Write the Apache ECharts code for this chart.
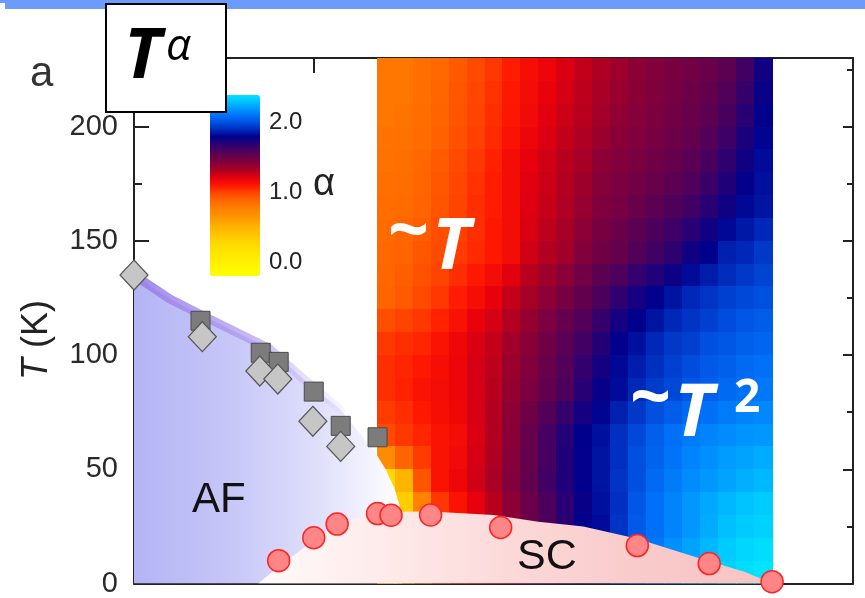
<!DOCTYPE html>
<html>
<head>
<meta charset="utf-8">
<script src="https://cdn.jsdelivr.net/npm/echarts@6/dist/echarts.min.js"></script>
<style>
html,body{margin:0;padding:0;background:#fff;}
#chart{width:865px;height:598px;}
</style>
</head>
<body>
<div id="chart"></div>
<script>
// ---------- data ----------
// heat-map cell centres (doping x, temperature T) and exponent alpha
const xCenters = [0.28,0.30,0.32,0.34,0.36,0.38,0.40,0.42,0.44,0.46,0.48,0.50,0.52,0.54,0.56,0.58,0.60,0.62,0.64,0.66,0.68,0.70];
const tCenters = [225,215,205,195,185,175,165,155,145,135,125,115,105,95,85,75,65,55,45,35,25,15,5];
const alphaRows = [
 [0.82,0.82,0.85,0.88,0.93,0.98,1.03,1.09,1.14,1.18,1.23,1.28,1.32,1.36,1.40,1.43,1.46,1.48,1.51,1.55,1.63,1.76],
 [0.82,0.82,0.85,0.89,0.94,0.99,1.04,1.10,1.15,1.19,1.24,1.29,1.33,1.37,1.41,1.44,1.47,1.50,1.53,1.58,1.66,1.78],
 [0.82,0.83,0.86,0.90,0.95,1.00,1.05,1.11,1.16,1.21,1.26,1.30,1.35,1.39,1.42,1.45,1.48,1.51,1.55,1.61,1.70,1.80],
 [0.83,0.84,0.87,0.91,0.96,1.01,1.06,1.12,1.18,1.23,1.28,1.32,1.37,1.41,1.44,1.47,1.50,1.53,1.58,1.64,1.73,1.81],
 [0.84,0.85,0.88,0.93,0.98,1.03,1.08,1.15,1.20,1.25,1.30,1.34,1.40,1.43,1.46,1.49,1.52,1.56,1.61,1.68,1.76,1.83],
 [0.85,0.86,0.89,0.94,0.99,1.04,1.09,1.15,1.21,1.26,1.31,1.36,1.42,1.45,1.48,1.51,1.55,1.59,1.65,1.72,1.79,1.84],
 [0.86,0.87,0.90,0.95,1.00,1.05,1.09,1.15,1.22,1.27,1.32,1.38,1.44,1.47,1.51,1.55,1.59,1.63,1.70,1.76,1.82,1.85],
 [0.87,0.89,0.92,0.97,1.01,1.05,1.10,1.15,1.23,1.29,1.34,1.40,1.46,1.50,1.55,1.60,1.64,1.70,1.76,1.82,1.86,1.90],
 [0.88,0.90,0.94,0.98,1.02,1.06,1.10,1.15,1.25,1.31,1.35,1.43,1.49,1.52,1.58,1.63,1.68,1.76,1.80,1.88,1.90,1.94],
 [0.89,0.92,0.96,1.00,1.05,1.10,1.15,1.21,1.30,1.36,1.41,1.48,1.55,1.60,1.67,1.72,1.77,1.83,1.87,1.91,1.94,1.97],
 [0.90,0.93,0.98,1.03,1.09,1.14,1.20,1.27,1.34,1.40,1.47,1.53,1.60,1.68,1.75,1.80,1.85,1.90,1.93,1.96,1.98,2.00],
 [0.97,1.00,1.03,1.08,1.13,1.19,1.24,1.31,1.38,1.45,1.52,1.58,1.66,1.75,1.80,1.85,1.90,1.93,1.96,1.99,2.02,2.04],
 [1.03,1.05,1.07,1.12,1.17,1.23,1.28,1.35,1.41,1.49,1.56,1.63,1.71,1.80,1.84,1.90,1.94,1.96,2.00,2.02,2.05,2.07],
 [1.05,1.07,1.10,1.14,1.18,1.24,1.29,1.37,1.43,1.51,1.58,1.67,1.75,1.82,1.87,1.92,1.96,1.99,2.03,2.05,2.08,2.10],
 [1.05,1.08,1.12,1.15,1.18,1.24,1.30,1.38,1.45,1.53,1.60,1.70,1.78,1.83,1.90,1.95,1.98,2.02,2.05,2.08,2.10,2.12],
 [1.02,1.05,1.10,1.14,1.17,1.24,1.31,1.40,1.49,1.58,1.66,1.75,1.81,1.88,1.94,2.00,2.04,2.08,2.10,2.13,2.15,2.16],
 [0.98,1.03,1.07,1.12,1.15,1.23,1.31,1.41,1.52,1.62,1.71,1.80,1.84,1.92,1.98,2.05,2.10,2.13,2.15,2.17,2.19,2.20],
 [0.70,0.90,1.02,1.12,1.16,1.24,1.32,1.42,1.52,1.62,1.72,1.80,1.85,1.92,2.00,2.06,2.11,2.15,2.18,2.21,2.23,2.25],
 [0.25,0.50,0.95,1.12,1.17,1.25,1.33,1.43,1.53,1.63,1.72,1.80,1.85,1.93,2.00,2.08,2.13,2.17,2.20,2.23,2.26,2.28],
 [0.20,0.35,0.75,1.03,1.12,1.20,1.30,1.40,1.50,1.60,1.70,1.78,1.84,1.92,2.02,2.10,2.15,2.20,2.24,2.28,2.31,2.33],
 [0.20,0.35,0.75,1.03,1.12,1.20,1.30,1.40,1.50,1.60,1.70,1.80,1.83,1.93,2.03,2.10,2.15,2.20,2.25,2.30,2.33,2.35],
 [0.20,0.35,0.75,1.03,1.12,1.20,1.30,1.40,1.50,1.60,1.70,1.80,1.85,1.95,2.05,2.12,2.18,2.23,2.28,2.33,2.36,2.38],
 [0.20,0.35,0.75,1.03,1.12,1.20,1.30,1.40,1.50,1.60,1.70,1.80,1.85,1.95,2.05,2.12,2.18,2.24,2.30,2.35,2.38,2.40]
];

// Neel temperature: squares and diamonds
const tnSquareX  = [0.074, 0.141, 0.161, 0.200, 0.230, 0.271];
const tnSquareT  = [115, 101, 97, 84, 69, 64];
const tnDiamondX = [0.000, 0.076, 0.140, 0.160, 0.199, 0.230];
const tnDiamondT = [135, 108, 93, 89.5, 71, 60];
// superconducting Tc
const tcX = [0.161, 0.200, 0.226, 0.271, 0.286, 0.330, 0.408, 0.560, 0.640, 0.710];
const tcT = [10, 20, 26, 30.6, 29.9, 30, 24.5, 16.6, 8.7, 0.8];
// phase boundaries
const bandX = [0.00, 0.04, 0.08, 0.15, 0.19, 0.23];
const bandT = [135, 124.5, 116.5, 103, 89, 76];
const afX = [0.00, 0.04, 0.08, 0.15, 0.19, 0.23, 0.269, 0.280, 0.290, 0.298];
const afT = [135, 124.5, 116.5, 103, 89, 76, 57, 50, 41.5, 30.6];
const scX = [0.138, 0.16, 0.20, 0.222, 0.25, 0.28, 0.33, 0.40, 0.45, 0.50, 0.56, 0.63, 0.68, 0.71];
const scT = [0, 7, 19, 25.3, 29, 31.4, 31.5, 30, 27, 25, 19.6, 10.9, 5, 0];
// colour scale
const alphaMin = -0.2, alphaMax = 2.4;
const colorbarTicks = [0, 1, 2];
const alphaColors = ['#ffff00','#fff800','#fff000','#ffe800','#ffe000','#ffd400','#ffc400','#ffb400','#ffa000',
  '#ff8c00','#ff7a00','#ff6400','#ff4400','#ff1800','#e8000c','#b8001e','#8c0035','#6c0048','#4c005c','#280074',
  '#00008c','#0028b8','#0050e0','#0070f8','#0098ff','#00c0ff','#00e4ff'];

// ---------- build ----------
const cellW = 0.02, cellH = 10;
const heatData = [];
tCenters.forEach((t, i) => xCenters.forEach((x, j) => heatData.push([x, t, alphaRows[i][j]])));
const zip = (a, b) => a.map((v, i) => [v, b[i]]);

const chart = echarts.init(document.getElementById('chart'), null, {renderer: 'canvas'});

const axisCol = '#222';
const xAxisBase = {
  gridIndex: 0, type: 'value', min: 0, max: 0.8, interval: 0.2,
  axisLine: {show: true, onZero: false, lineStyle: {color: axisCol, width: 2}},
  axisTick: {show: true, inside: true, length: 15, lineStyle: {color: axisCol, width: 2}},
  minorTick: {show: true, splitNumber: 2, length: 8, lineStyle: {color: axisCol, width: 2}},
  axisLabel: {show: false}, splitLine: {show: false}, minorSplitLine: {show: false}
};
const yAxisBase = {
  gridIndex: 0, type: 'value', min: 0, max: 230, interval: 50,
  axisLine: {show: true, onZero: false, lineStyle: {color: axisCol, width: 2}},
  axisTick: {show: true, inside: true, length: 15, lineStyle: {color: axisCol, width: 2}},
  minorTick: {show: true, splitNumber: 2, length: 8, lineStyle: {color: axisCol, width: 2}},
  splitLine: {show: false}, minorSplitLine: {show: false}
};

// colour bar geometry
const cbLeft = 210, cbTop = 95, cbW = 50, cbH = 181;
const cbY = v => cbTop + (alphaMax - v) / (alphaMax - alphaMin) * cbH;

const texts = [];
colorbarTicks.forEach(v => texts.push({
  type: 'text', x: 269, y: cbY(v), z: 100,
  style: {text: v.toFixed(1), fontSize: 24, fontFamily: 'Liberation Sans', fill: '#222',
    align: 'left', verticalAlign: 'middle', textAlign: 'left', textVerticalAlign: 'middle'}
}));

function txt(x, y, text, size, opts) {
  return {
    type: 'text', x: x, y: y, z: 100,
    style: Object.assign({text: text, fontSize: size, fontFamily: 'Liberation Sans', fill: '#111',
      align: 'left', verticalAlign: 'middle', textAlign: 'left', textVerticalAlign: 'middle'}, opts || {})
  };
}

const option = {
  animation: false,
  backgroundColor: '#ffffff',
  grid: [{left: 134, right: 12, top: 58, bottom: 12}],
  xAxis: [
    Object.assign({}, xAxisBase, {position: 'bottom'}),
    Object.assign({}, xAxisBase, {position: 'top'})
  ],
  yAxis: [
    Object.assign({}, yAxisBase, {position: 'left',
      axisLabel: {show: true, fontSize: 29, fontFamily: 'Liberation Sans', color: '#2a2a2a', margin: 16, showMaxLabel: false}}),
    Object.assign({}, yAxisBase, {position: 'right',
      axisTick: {show: true, inside: true, length: 10, lineStyle: {color: axisCol, width: 2}},
      minorTick: {show: true, splitNumber: 2, length: 6, lineStyle: {color: axisCol, width: 2}},
      axisLabel: {show: false}})
  ],
  visualMap: [{
    type: 'continuous', seriesIndex: 0, dimension: 2,
    min: alphaMin, max: alphaMax, calculable: false, hoverLink: false,
    left: cbLeft, top: cbTop, itemWidth: cbW, itemHeight: cbH, padding: 0,
    text: null, showLabel: false,
    inRange: {color: alphaColors}
  }],
  series: [
    {
      type: 'custom', name: 'alpha', xAxisIndex: 0, yAxisIndex: 0, z: 1, silent: true, clip: true,
      data: heatData, encode: {x: 0, y: 1},
      renderItem: function (params, api) {
        const x = api.value(0), t = api.value(1);
        const p1 = api.coord([x - cellW / 2, t + cellH / 2]);
        const p2 = api.coord([x + cellW / 2, t - cellH / 2]);
        const x0 = Math.round(p1[0]), y0 = Math.round(p1[1]);
        const x1 = Math.round(p2[0]), y1 = Math.round(p2[1]);
        return {type: 'rect',
          shape: {x: x0, y: y0, width: x1 - x0 + 1, height: y1 - y0 + 1},
          style: {fill: api.visual('color'), lineWidth: 0}};
      }
    },
    {
      type: 'line', name: 'AF', data: zip(afX, afT), symbol: 'none', z: 2, silent: true,
      lineStyle: {width: 0, opacity: 0},
      areaStyle: {origin: 'start', opacity: 1,
        color: new echarts.graphic.LinearGradient(0, 0, 1, 0, [
          {offset: 0, color: '#b4b4f5'}, {offset: 0.35, color: '#c6c6f8'},
          {offset: 0.7, color: '#e0e0fb'}, {offset: 0.9, color: '#f5f5fe'}, {offset: 1, color: '#ffffff'}])}
    },
    {
      type: 'line', name: 'SC', data: zip(scX, scT), symbol: 'none', z: 3, silent: true,
      lineStyle: {width: 0, opacity: 0},
      areaStyle: {origin: 'start', opacity: 1,
        color: new echarts.graphic.LinearGradient(0, 0, 1, 0, [
          {offset: 0, color: '#fffafa'}, {offset: 0.25, color: '#feeaea'},
          {offset: 0.5, color: '#fcd8d8'}, {offset: 0.75, color: '#f9caca'}, {offset: 1, color: '#f8c2c2'}])}
    },
    {
      type: 'line', name: 'Tn band', data: zip(bandX, bandT), symbol: 'none', z: 4, silent: true,
      lineStyle: {width: 9, cap: 'round',
        color: new echarts.graphic.LinearGradient(0, 0, 1, 0, [
          {offset: 0, color: 'rgba(150,122,232,0.9)'}, {offset: 0.6, color: 'rgba(172,150,238,0.65)'},
          {offset: 1, color: 'rgba(205,195,248,0.15)'}])}
    },
    {
      type: 'scatter', name: 'Tn square', data: zip(tnSquareX, tnSquareT), z: 5, clip: false,
      symbol: 'rect', symbolSize: 19,
      itemStyle: {color: '#7c7c7c', borderColor: '#4a4a4a', borderWidth: 1, opacity: 1}
    },
    {
      type: 'scatter', name: 'Tn diamond', data: zip(tnDiamondX, tnDiamondT), z: 6, clip: false,
      symbol: 'diamond', symbolSize: [28, 30],
      itemStyle: {color: '#c6c6c6', borderColor: '#555555', borderWidth: 1.2, opacity: 1}
    },
    {
      type: 'scatter', name: 'Tc', data: zip(tcX, tcT), z: 7, clip: false,
      symbol: 'circle', symbolSize: 22,
      itemStyle: {color: '#ff8686', borderColor: '#ff2424', borderWidth: 1.5, opacity: 1}
    }
  ],
  graphic: {elements: texts.concat([
    {type: 'rect', shape: {x: 0, y: 0, width: 865, height: 3}, style: {fill: '#6b9bfb'}, z: 100},
    {type: 'rect', shape: {x: 5, y: 0, width: 860, height: 9}, style: {fill: '#6b9bfb'}, z: 100},
    txt(30, 74, 'a', 42, {fill: '#333'}),
    {type: 'rect', shape: {x: 106, y: 4, width: 120, height: 108}, style: {fill: '#ffffff', stroke: '#000', lineWidth: 2}, z: 100},
    txt(124, 58, 'T', 70, {fontFamily: 'Open Sans', fontWeight: 'bold', fontStyle: 'italic', fill: '#000'}),
    txt(166, 47, 'α', 44, {fontFamily: 'Open Sans', fontStyle: 'italic', fill: '#000'}),
    txt(313, 185, 'α', 38, {fill: '#222'}),
    txt(388, 233, '~', 72, {fontFamily: 'Open Sans', fontWeight: 'bold', fill: '#fff'}),
    txt(432, 248, 'T', 72, {fontFamily: 'Open Sans', fontWeight: 'bold', fontStyle: 'italic', fill: '#fff'}),
    txt(630, 400, '~', 72, {fontFamily: 'Open Sans', fontWeight: 'bold', fill: '#fff'}),
    txt(674, 415, 'T', 74, {fontFamily: 'Open Sans', fontWeight: 'bold', fontStyle: 'italic', fill: '#fff'}),
    txt(734, 399, '2', 46, {fontFamily: 'Open Sans', fontWeight: 'bold', fill: '#fff'}),
    txt(192, 500, 'AF', 42, {fill: '#111'}),
    txt(517, 557, 'SC', 43, {fill: '#111'}),
    {type: 'text', x: 37, y: 340, rotation: Math.PI / 2, z: 100,
      style: {text: '{i|T} (K)', fontSize: 36, fontFamily: 'Liberation Sans', fill: '#222',
        align: 'center', verticalAlign: 'middle', textAlign: 'center', textVerticalAlign: 'middle',
        rich: {i: {fontStyle: 'italic', fontSize: 36, fontFamily: 'Liberation Sans', fill: '#222'}}}}
  ])}
};
chart.setOption(option);
</script>
</body>
</html>
